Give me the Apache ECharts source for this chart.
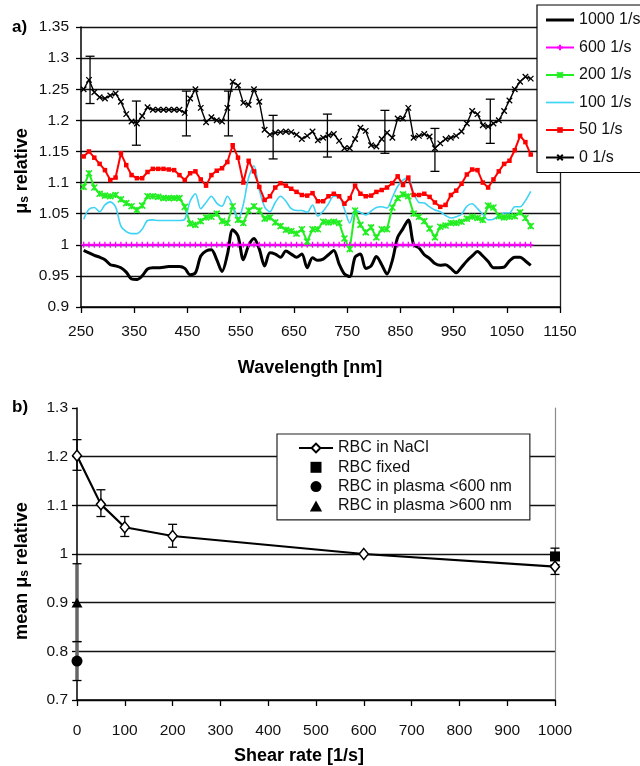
<!DOCTYPE html>
<html>
<head>
<meta charset="utf-8">
<script src="https://cdn.jsdelivr.net/npm/echarts@6/dist/echarts.min.js"></script>
<style>
  html, body { margin: 0; padding: 0; background: #fff; }
  #chart { width: 640px; height: 766px; }
</style>
</head>
<body>
<div id="chart"></div>
<script>
// ---- a) relative scattering coefficient vs. wavelength ----
const wavelength = [
  255, 265, 275, 285, 295, 305, 315, 325, 335, 345,
  355, 365, 375, 385, 395, 405, 415, 425, 435, 445,
  455, 465, 475, 485, 495, 505, 515, 525, 535, 545,
  555, 565, 575, 585, 595, 605, 615, 625, 635, 645,
  655, 665, 675, 685, 695, 705, 715, 725, 735, 745,
  755, 765, 775, 785, 795, 805, 815, 825, 835, 845,
  855, 865, 875, 885, 895, 905, 915, 925, 935, 945,
  955, 965, 975, 985, 995, 1005, 1015, 1025, 1035, 1045,
  1055, 1065, 1075, 1085, 1095
];
const mu1000 = [
  0.991, 0.987, 0.983, 0.980, 0.976, 0.968, 0.966, 0.963, 0.956, 0.945,
  0.944, 0.950, 0.961, 0.963, 0.963, 0.964, 0.965, 0.965, 0.965, 0.962,
  0.952, 0.955, 0.982, 0.990, 0.992, 0.976, 0.957, 0.984, 1.024, 1.014,
  0.976, 0.999, 1.010, 0.993, 0.966, 0.987, 0.985, 0.980, 0.990, 0.985,
  0.980, 0.985, 0.963, 0.979, 0.975, 0.977, 0.984, 0.991, 0.969, 0.953,
  0.949, 0.980, 0.985, 0.962, 0.966, 0.981, 0.968, 0.953, 0.975, 1.012,
  1.026, 1.040, 1.000, 0.995, 0.984, 0.978, 0.970, 0.967, 0.968, 0.962,
  0.955, 0.964, 0.974, 0.982, 0.989, 0.982, 0.973, 0.963, 0.963, 0.964,
  0.974, 0.980, 0.980, 0.974, 0.967
];
const mu600 = [
  1, 1, 1, 1, 1, 1, 1, 1, 1, 1,
  1, 1, 1, 1, 1, 1, 1, 1, 1, 1,
  1, 1, 1, 1, 1, 1, 1, 1, 1, 1,
  1, 1, 1, 1, 1, 1, 1, 1, 1, 1,
  1, 1, 1, 1, 1, 1, 1, 1, 1, 1,
  1, 1, 1, 1, 1, 1, 1, 1, 1, 1,
  1, 1, 1, 1, 1, 1, 1, 1, 1, 1,
  1, 1, 1, 1, 1, 1, 1, 1, 1, 1,
  1, 1, 1, 1, 1
];
const mu200 = [
  1.093, 1.115, 1.092, 1.082, 1.079, 1.078, 1.080, 1.073, 1.067, 1.062,
  1.056, 1.063, 1.078, 1.078, 1.077, 1.075, 1.075, 1.075, 1.075, 1.061,
  1.034, 1.032, 1.038, 1.044, 1.045, 1.050, 1.038, 1.035, 1.062, 1.040,
  1.035, 1.055, 1.062, 1.055, 1.042, 1.044, 1.036, 1.030, 1.024, 1.022,
  1.018, 1.025, 1.005, 1.025, 1.025, 1.037, 1.036, 1.037, 1.035, 1.010,
  0.993, 1.055, 1.032, 1.020, 1.028, 1.012, 1.025, 1.025, 1.060, 1.075,
  1.081, 1.078, 1.050, 1.045, 1.038, 1.026, 1.012, 1.029, 1.031, 1.035,
  1.035, 1.037, 1.042, 1.045, 1.043, 1.040, 1.063, 1.060, 1.046, 1.044,
  1.045, 1.046, 1.052, 1.043, 1.030
];
const mu100 = [
  1.041, 1.057, 1.060, 1.053, 1.064, 1.069, 1.061, 1.030, 1.021, 1.018,
  1.018, 1.025, 1.039, 1.040, 1.039, 1.039, 1.039, 1.039, 1.039, 1.041,
  1.070, 1.082, 1.058, 1.068, 1.078, 1.067, 1.062, 1.078, 1.063, 1.040,
  1.065, 1.108, 1.127, 1.088, 1.061, 1.053, 1.068, 1.078, 1.070, 1.058,
  1.055, 1.055, 1.052, 1.064, 1.046, 1.054, 1.066, 1.078, 1.077, 1.057,
  1.035, 1.056, 1.052, 1.048, 1.054, 1.060, 1.061, 1.059, 1.076, 1.094,
  1.104, 1.108, 1.083, 1.068, 1.067, 1.061, 1.056, 1.053, 1.047, 1.043,
  1.045, 1.049, 1.062, 1.066, 1.058, 1.049, 1.040, 1.041, 1.047, 1.051,
  1.051, 1.061, 1.061, 1.071, 1.086
];
const mu50 = [
  1.142, 1.150, 1.140, 1.130, 1.120, 1.104, 1.108, 1.147, 1.128, 1.112,
  1.107, 1.107, 1.117, 1.122, 1.122, 1.122, 1.121, 1.120, 1.112, 1.104,
  1.115, 1.118, 1.105, 1.095, 1.112, 1.119, 1.123, 1.133, 1.160, 1.140,
  1.100, 1.135, 1.118, 1.093, 1.072, 1.078, 1.092, 1.099, 1.095, 1.090,
  1.085, 1.080, 1.079, 1.083, 1.070, 1.070, 1.078, 1.082, 1.078, 1.066,
  1.075, 1.095, 1.082, 1.078, 1.079, 1.085, 1.088, 1.092, 1.099, 1.110,
  1.096, 1.108, 1.080, 1.080, 1.082, 1.077, 1.068, 1.061, 1.064, 1.080,
  1.087, 1.098, 1.113, 1.121, 1.120, 1.100, 1.092, 1.105, 1.118, 1.130,
  1.135, 1.152, 1.175, 1.165, 1.145
];
const mu0 = [
  1.250, 1.265, 1.245, 1.237, 1.235, 1.240, 1.243, 1.230, 1.210, 1.198,
  1.195, 1.207, 1.221, 1.217, 1.217, 1.217, 1.217, 1.217, 1.217, 1.212,
  1.235, 1.250, 1.220, 1.197, 1.205, 1.200, 1.198, 1.220, 1.262, 1.256,
  1.228, 1.225, 1.250, 1.230, 1.185, 1.177, 1.180, 1.181, 1.182, 1.181,
  1.177, 1.170, 1.175, 1.182, 1.168, 1.172, 1.176, 1.178, 1.167, 1.155,
  1.155, 1.170, 1.188, 1.183, 1.160, 1.158, 1.170, 1.180, 1.172, 1.203,
  1.203, 1.220, 1.172, 1.175, 1.178, 1.174, 1.155, 1.163, 1.170, 1.172,
  1.175, 1.182, 1.195, 1.215, 1.210, 1.192, 1.190, 1.195, 1.200, 1.215,
  1.232, 1.250, 1.262, 1.270, 1.267
];
// standard deviation bars of the 0 1/s curve
const errWavelength = [267, 354, 448, 527, 611, 713, 821, 915, 1019];
const errLow0 = [1.227, 1.160, 1.175, 1.175, 1.138, 1.141, 1.147, 1.118, 1.163];
const errHigh0 = [1.303, 1.231, 1.247, 1.247, 1.208, 1.210, 1.216, 1.187, 1.234];

// ---- b) mean relative scattering coefficient vs. shear rate ----
const shearNaCl = [0, 50, 100, 200, 600, 1000];
const meanNaCl = [1.202, 1.102, 1.055, 1.037, 1.0, 0.974];
const lowNaCl = [1.172, 1.077, 1.036, 1.014, null, 0.958];
const highNaCl = [1.235, 1.132, 1.077, 1.061, null, 0.990];
const shearFixed = [1000];
const meanFixed = [0.995];
const lowFixed = [0.978];
const highFixed = [1.012];
const shearPlasmaShort = [0];
const meanPlasmaShort = [0.78];
const lowPlasmaShort = [0.74];
const highPlasmaShort = [0.82];
const shearPlasmaLong = [0];
const meanPlasmaLong = [0.90];
const lowPlasmaLong = [0.82];
const highPlasmaLong = [0.98];

const FONT = 'Liberation Sans, Arial, Helvetica, sans-serif';

function pairs(xs, ys) { return xs.map((x, i) => [x, ys[i]]); }
function triples(xs, lo, hi) {
  const out = [];
  xs.forEach((x, i) => { if (lo[i] != null) out.push([x, lo[i], hi[i]]); });
  return out;
}

// vertical error bar with horizontal caps
function errorBar(capHalf, stemColor, stemWidth) {
  return function (params, api) {
    const x = api.value(0);
    const pLo = api.coord([x, api.value(1)]);
    const pHi = api.coord([x, api.value(2)]);
    return {
      type: 'group',
      children: [
        { type: 'line', shape: { x1: pLo[0], y1: pLo[1], x2: pHi[0], y2: pHi[1] },
          style: { stroke: stemColor, lineWidth: stemWidth } },
        { type: 'line', shape: { x1: pHi[0] - capHalf, y1: pHi[1], x2: pHi[0] + capHalf, y2: pHi[1] },
          style: { stroke: '#000', lineWidth: 1.3 } },
        { type: 'line', shape: { x1: pLo[0] - capHalf, y1: pLo[1], x2: pLo[0] + capHalf, y2: pLo[1] },
          style: { stroke: '#000', lineWidth: 1.3 } }
      ]
    };
  };
}

const tickLabel = { fontFamily: FONT, fontSize: 15.5, color: '#111' };
const plainNumber = v => String(v);

const crossSymbol = 'path://M0,0L10,10M10,0L0,10';
const starSymbol = 'path://M0,0L10,10M10,0L0,10M5,0L5,10';
const plusSymbol = 'path://M5,0L5,10M0,5L10,5';
const squareSymbol = 'path://M0,0L10,0L10,10L0,10Z';
const triangleSymbol = 'path://M5,0L10,9L0,9Z';

const chart = echarts.init(document.getElementById('chart'), null, { renderer: 'canvas' });

chart.setOption({
  animation: false,
  backgroundColor: '#fff',
  grid: [
    { left: 81, right: 80, top: 27, bottom: 459, outerBoundsMode: 'none', containLabel: false },
    { left: 77, right: 85, top: 408, bottom: 66, outerBoundsMode: 'none', containLabel: false }
  ],
  xAxis: [
    {
      type: 'value', gridIndex: 0, min: 250, max: 1150, interval: 100,
      axisLine: { onZero: false, lineStyle: { color: '#000', width: 1.5 } },
      axisTick: { show: true, inside: false, length: 6, lineStyle: { color: '#000', width: 1.3 } },
      axisLabel: Object.assign({ margin: 17, formatter: plainNumber }, tickLabel),
      splitLine: { show: false }
    },
    {
      type: 'value', gridIndex: 1, min: 0, max: 1000, interval: 100,
      axisLine: { onZero: false, lineStyle: { color: '#000', width: 1.5 } },
      axisTick: { show: true, inside: false, length: 6, lineStyle: { color: '#000', width: 1.3 } },
      axisLabel: Object.assign({ margin: 23, formatter: plainNumber }, tickLabel),
      splitLine: { show: false }
    }
  ],
  yAxis: [
    {
      type: 'value', gridIndex: 0, min: 0.9, max: 1.35, interval: 0.05,
      axisLine: { onZero: false, lineStyle: { color: '#000', width: 1.5 } },
      axisTick: { show: true, inside: false, length: 5, lineStyle: { color: '#000', width: 1.3 } },
      axisLabel: Object.assign({ margin: 12 }, tickLabel),
      splitLine: { show: true, lineStyle: { color: '#111', width: 1.3 } }
    },
    {
      type: 'value', gridIndex: 0, position: 'right', min: 0.9, max: 1.35, interval: 0.05,
      axisLine: { show: true, onZero: false, lineStyle: { color: '#222', width: 1.3 } },
      axisTick: { show: false }, axisLabel: { show: false }, splitLine: { show: false }
    },
    {
      type: 'value', gridIndex: 1, min: 0.7, max: 1.3, interval: 0.1,
      axisLine: { onZero: false, lineStyle: { color: '#000', width: 1.5 } },
      axisTick: { show: true, inside: false, length: 5, lineStyle: { color: '#000', width: 1.3 } },
      axisLabel: Object.assign({ margin: 9 }, tickLabel),
      splitLine: {
        show: true,
        lineStyle: { color: ['#111', '#111', '#111', '#111', '#111', '#111', 'rgba(0,0,0,0)'], width: 1.3 }
      }
    },
    {
      type: 'value', gridIndex: 1, position: 'right', min: 0.7, max: 1.3, interval: 0.1,
      axisLine: { show: true, onZero: false, lineStyle: { color: '#8a8a8a', width: 1.2 } },
      axisTick: { show: false }, axisLabel: { show: false }, splitLine: { show: false }
    }
  ],
  legend: [
    {
      data: [
        { name: '1000 1/s', icon: 'path://M0,0L28,0L28,3L0,3Z' },
        '600 1/s', '200 1/s',
        { name: '100 1/s', icon: 'path://M0,0L28,0L28,1.7L0,1.7Z' },
        '50 1/s', '0 1/s'
      ],
      orient: 'vertical', left: 537, top: 5,
      padding: [7, 10, 7, 8],
      itemWidth: 28, itemHeight: 7, itemGap: 11.5,
      backgroundColor: '#fff', borderColor: '#000', borderWidth: 1.2, borderRadius: 0,
      selectedMode: false,
      textStyle: { fontFamily: FONT, fontSize: 16, color: '#111' }
    },
    {
      data: ['RBC in NaCl', 'RBC fixed', 'RBC in plasma <600 nm', 'RBC in plasma >600 nm'],
      orient: 'vertical', left: 277, top: 434,
      padding: [6, 18, 6, 21],
      itemWidth: 34, itemHeight: 11, itemGap: 3.3,
      backgroundColor: '#fff', borderColor: '#222', borderWidth: 1.2, borderRadius: 0,
      selectedMode: false,
      textStyle: { fontFamily: FONT, fontSize: 16, color: '#111' }
    }
  ],
  series: [
    // ----- panel a -----
    {
      name: '1000 1/s', type: 'line', xAxisIndex: 0, yAxisIndex: 0,
      data: pairs(wavelength, mu1000), symbol: 'none', smooth: 0.3, symbolKeepAspect: true,
      lineStyle: { color: '#000', width: 3 }, itemStyle: { color: '#000' }
    },
    {
      name: '600 1/s', type: 'line', xAxisIndex: 0, yAxisIndex: 0,
      data: pairs(wavelength, mu600), symbol: plusSymbol, symbolSize: 6,
      lineStyle: { color: '#ff00ff', width: 2 },
      itemStyle: { color: '#ff00ff', borderColor: '#ff00ff', borderWidth: 1.3 }
    },
    {
      name: '200 1/s', type: 'line', xAxisIndex: 0, yAxisIndex: 0,
      data: pairs(wavelength, mu200), symbol: starSymbol, symbolSize: 6,
      lineStyle: { color: '#22ee22', width: 2 },
      itemStyle: { color: '#22ee22', borderColor: '#22ee22', borderWidth: 1.6 }
    },
    {
      name: '100 1/s', type: 'line', xAxisIndex: 0, yAxisIndex: 0,
      data: pairs(wavelength, mu100), symbol: 'none', smooth: 0.3, symbolKeepAspect: true,
      lineStyle: { color: '#3fd3f5', width: 1.6 }, itemStyle: { color: '#3fd3f5' }
    },
    {
      name: '50 1/s', type: 'line', xAxisIndex: 0, yAxisIndex: 0,
      data: pairs(wavelength, mu50), symbol: 'rect', symbolSize: 4.5,
      lineStyle: { color: '#ff0000', width: 2 },
      itemStyle: { color: '#ff0000', borderColor: '#ff0000', borderWidth: 0 }
    },
    {
      name: '0 1/s', type: 'line', xAxisIndex: 0, yAxisIndex: 0,
      data: pairs(wavelength, mu0), symbol: crossSymbol, symbolSize: 5.5,
      lineStyle: { color: '#000', width: 1.4 },
      itemStyle: { color: '#000', borderColor: '#000', borderWidth: 1.3 }
    },
    {
      name: 'sd 0 1/s', type: 'custom', xAxisIndex: 0, yAxisIndex: 0,
      data: triples(errWavelength, errLow0, errHigh0),
      encode: { x: 0, y: [1, 2] },
      renderItem: errorBar(4.5, '#000', 1.3), z: 5
    },
    // ----- panel b -----
    {
      name: 'sd plasma', type: 'custom', xAxisIndex: 1, yAxisIndex: 2,
      data: triples(shearPlasmaLong, lowPlasmaLong, highPlasmaLong)
        .concat(triples(shearPlasmaShort, lowPlasmaShort, highPlasmaShort)),
      encode: { x: 0, y: [1, 2] },
      renderItem: errorBar(4.5, '#666', 3.5), clip: false, z: 3
    },
    {
      name: 'sd NaCl', type: 'custom', xAxisIndex: 1, yAxisIndex: 2,
      data: triples(shearNaCl, lowNaCl, highNaCl).concat(triples(shearFixed, lowFixed, highFixed)),
      encode: { x: 0, y: [1, 2] },
      renderItem: errorBar(4.5, '#000', 1.3), clip: false, z: 3
    },
    {
      name: 'RBC in NaCl', type: 'line', xAxisIndex: 1, yAxisIndex: 2,
      data: pairs(shearNaCl, meanNaCl), symbol: 'diamond', symbolSize: [9, 11],
      clip: false, z: 4,
      lineStyle: { color: '#000', width: 2.2 },
      itemStyle: { color: '#fff', borderColor: '#000', borderWidth: 1.5 }
    },
    {
      name: 'RBC fixed', type: 'scatter', xAxisIndex: 1, yAxisIndex: 2,
      data: pairs(shearFixed, meanFixed), symbol: squareSymbol, symbolSize: 10,
      symbolKeepAspect: true,
      clip: false, z: 4, itemStyle: { color: '#000', opacity: 1 }
    },
    {
      name: 'RBC in plasma <600 nm', type: 'scatter', xAxisIndex: 1, yAxisIndex: 2,
      data: pairs(shearPlasmaShort, meanPlasmaShort), symbol: 'circle', symbolSize: 11,
      symbolKeepAspect: true,
      clip: false, z: 4, itemStyle: { color: '#000', opacity: 1 }
    },
    {
      name: 'RBC in plasma >600 nm', type: 'scatter', xAxisIndex: 1, yAxisIndex: 2,
      data: pairs(shearPlasmaLong, meanPlasmaLong), symbol: triangleSymbol, symbolSize: 11,
      symbolKeepAspect: true,
      clip: false, z: 4, itemStyle: { color: '#000', opacity: 1 }
    }
  ],
  graphic: [
    { type: 'text', x: 12, y: 27, z: 100,
      style: { text: 'a)', font: 'bold 17px ' + FONT, fill: '#000', align: 'left', verticalAlign: 'middle' } },
    { type: 'text', x: 12, y: 407, z: 100,
      style: { text: 'b)', font: 'bold 17px ' + FONT, fill: '#000', align: 'left', verticalAlign: 'middle' } },
    { type: 'text', x: 310, y: 368, z: 100,
      style: { text: 'Wavelength [nm]', font: 'bold 18px ' + FONT, fill: '#000', align: 'center', verticalAlign: 'middle' } },
    { type: 'text', x: 299, y: 756, z: 100,
      style: { text: 'Shear rate [1/s]', font: 'bold 18px ' + FONT, fill: '#000', align: 'center', verticalAlign: 'middle' } },
    { type: 'text', x: 22, y: 171, rotation: Math.PI / 2, z: 100,
      style: {
        text: '{m|μ}{s|s}{m| relative}', align: 'center', verticalAlign: 'middle', fill: '#000',
        rich: {
          m: { fontFamily: FONT, fontWeight: 'bold', fontSize: 18, fill: '#000' },
          s: { fontFamily: FONT, fontWeight: 'bold', fontSize: 12, fill: '#000', verticalAlign: 'bottom' }
        }
      } },
    { type: 'text', x: 22, y: 571, rotation: Math.PI / 2, z: 100,
      style: {
        text: '{m|mean μ}{s|s}{m| relative}', align: 'center', verticalAlign: 'middle', fill: '#000',
        rich: {
          m: { fontFamily: FONT, fontWeight: 'bold', fontSize: 18, fill: '#000' },
          s: { fontFamily: FONT, fontWeight: 'bold', fontSize: 12, fill: '#000', verticalAlign: 'bottom' }
        }
      } }
  ]
});
</script>
</body>
</html>
